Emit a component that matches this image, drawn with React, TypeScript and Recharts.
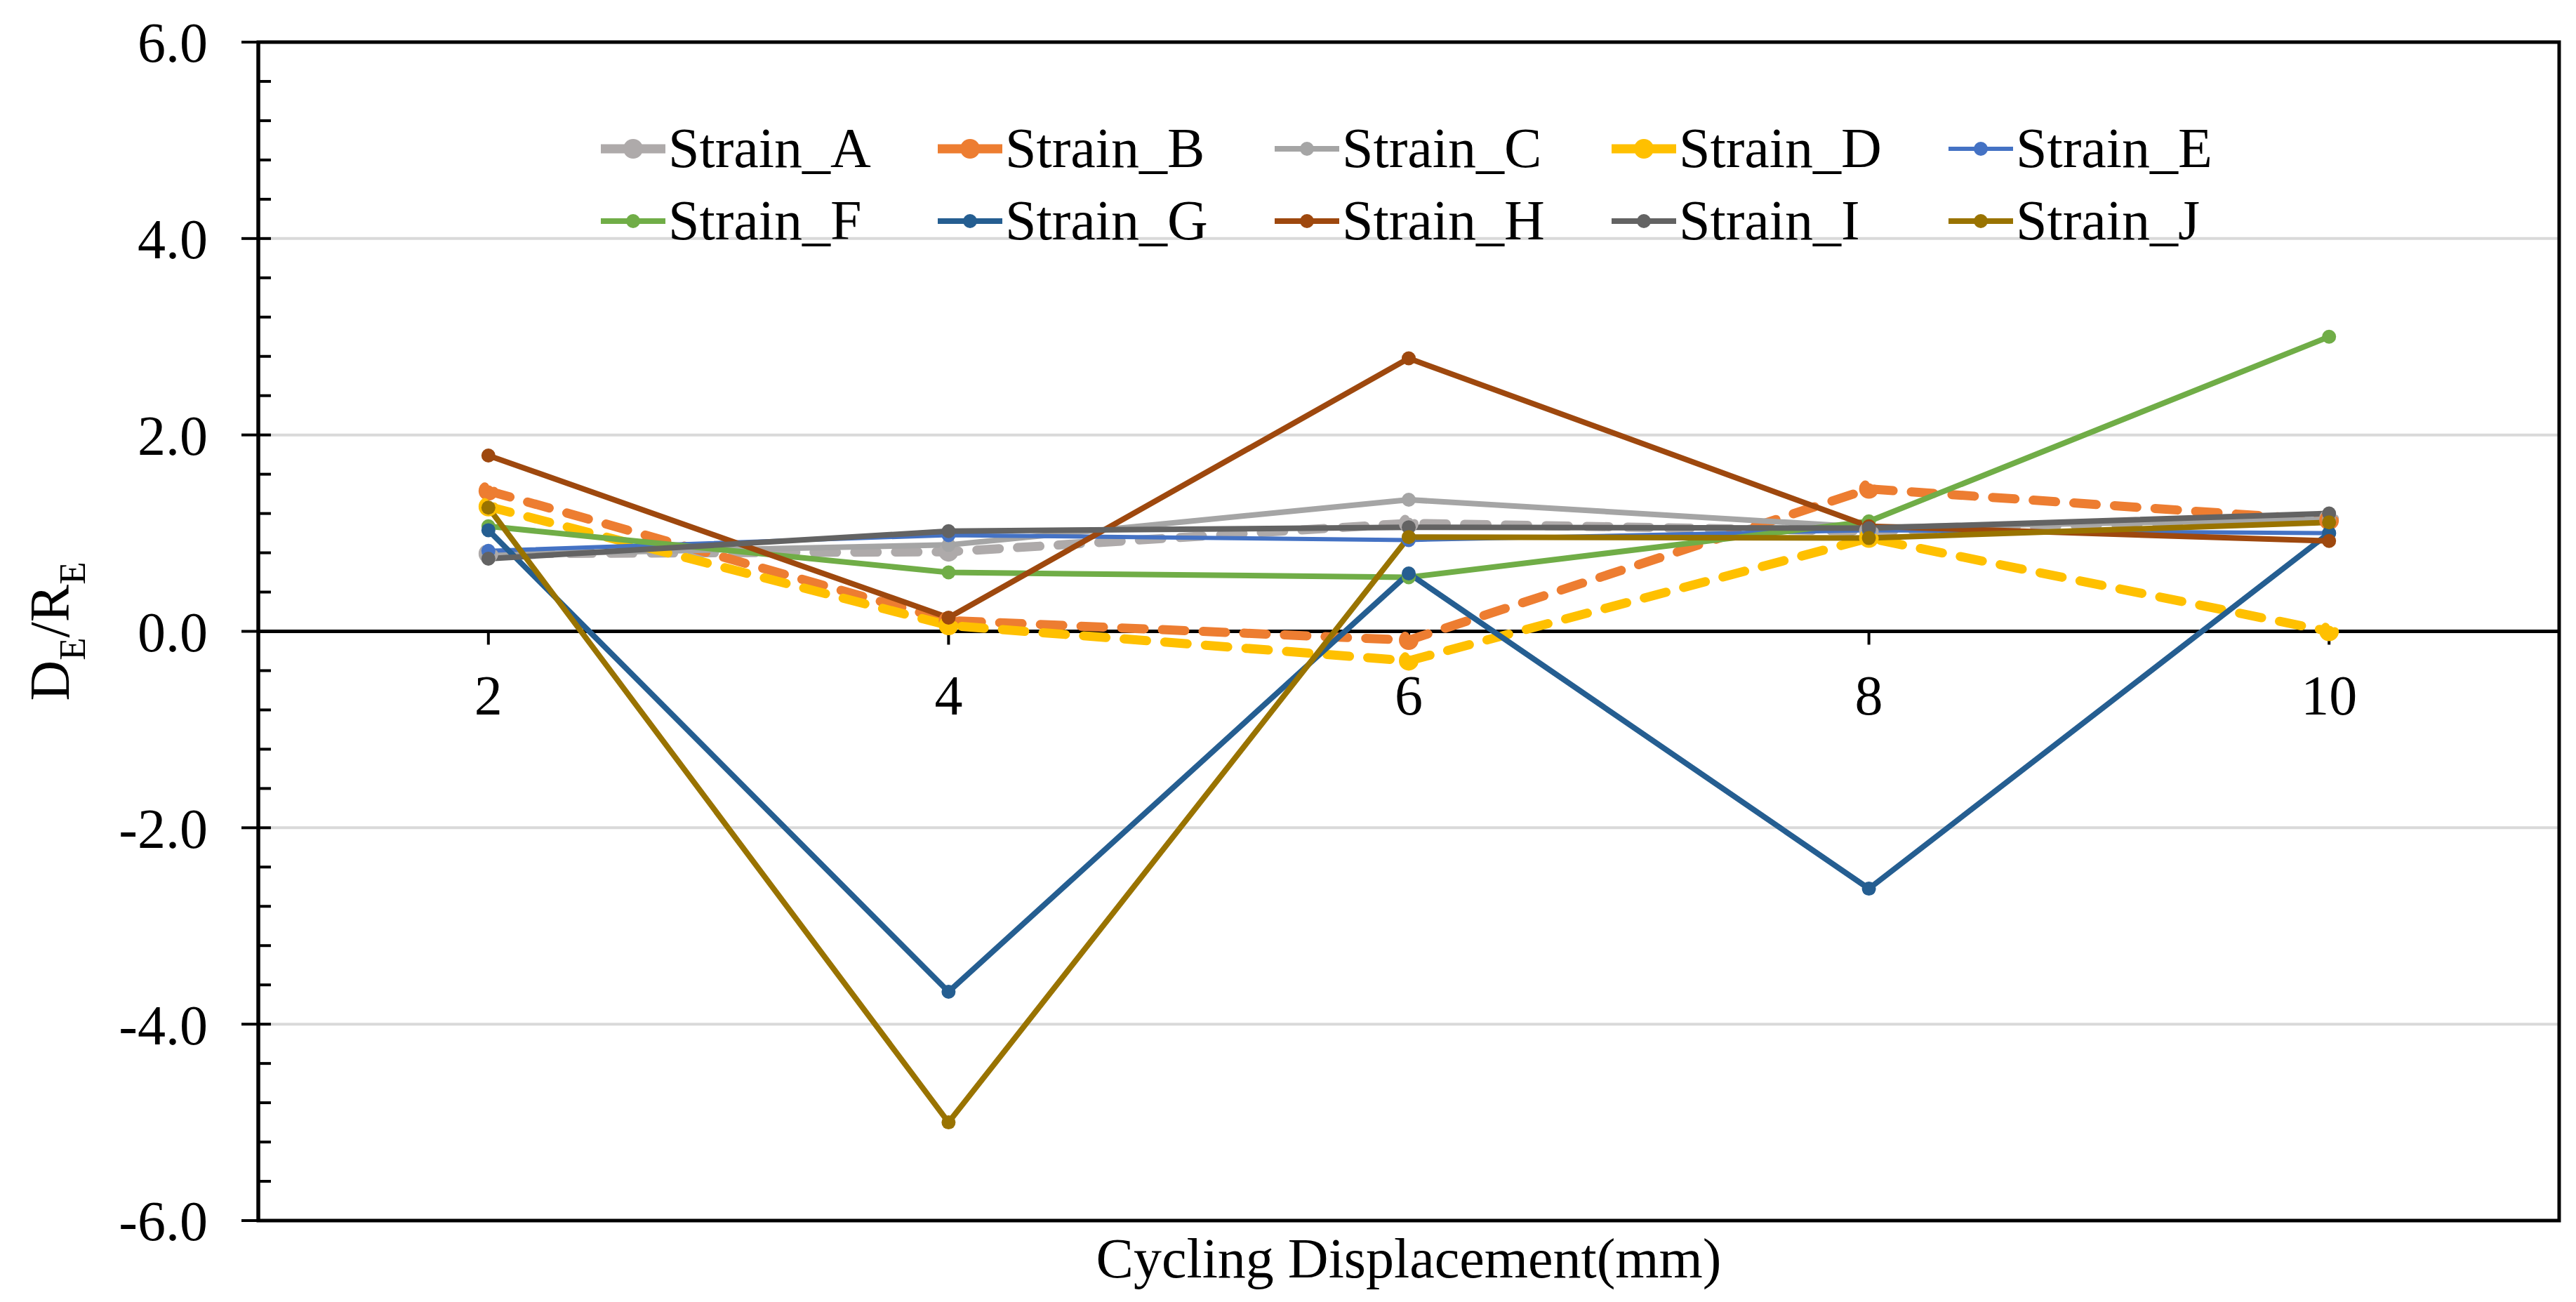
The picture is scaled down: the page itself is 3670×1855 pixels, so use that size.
import React from 'react';
import {
  LineChart,
  Line,
  XAxis,
  YAxis,
  CartesianGrid,
  ReferenceLine,
  ReferenceDot,
  ReferenceArea,
  Legend,
} from 'recharts';

const FONT = "'Liberation Serif', 'Times New Roman', serif";

// Categories (Cycling Displacement, mm)
const xValues = [2, 4, 6, 8, 10];

// Series values (D_E/R_E)
const strainA = [0.79, 0.81, 1.1, 1.02, 1.15];
const strainB = [1.43, 0.11, -0.09, 1.45, 1.13];
const strainC = [0.78, 0.88, 1.34, 1.06, 1.14];
const strainD = [1.27, 0.06, -0.3, 0.95, 0.0];
const strainE = [0.82, 0.98, 0.93, 1.03, 1.0];
const strainF = [1.07, 0.6, 0.55, 1.12, 3.0];
const strainG = [1.03, -3.67, 0.59, -2.62, 1.0];
const strainH = [1.79, 0.14, 2.78, 1.07, 0.92];
const strainI = [0.74, 1.02, 1.06, 1.05, 1.2];
const strainJ = [1.26, -5.0, 0.96, 0.95, 1.11];

// Axis ticks
const xTicks = [2, 4, 6, 8, 10];
const xGridValues = [2, 3, 4, 5, 6, 7, 8, 9, 10];
const yTicks = [-6, -4, -2, 0, 2, 4, 6];
const yGridValues = [-4, -2, 2, 4];
const yMinorTicks = Array.from({ length: 31 }, (_, i) => Math.round((-6 + i * 0.4) * 10) / 10);

const series = [
  { key: 'A', name: 'Strain_A', values: strainA, color: '#AEAAAA', dashed: true, width: 13 },
  { key: 'B', name: 'Strain_B', values: strainB, color: '#ED7D31', dashed: true, width: 13 },
  { key: 'C', name: 'Strain_C', values: strainC, color: '#A5A5A5', dashed: false, width: 8 },
  { key: 'D', name: 'Strain_D', values: strainD, color: '#FFC000', dashed: true, width: 13 },
  { key: 'E', name: 'Strain_E', values: strainE, color: '#4472C4', dashed: false, width: 6 },
  { key: 'F', name: 'Strain_F', values: strainF, color: '#70AD47', dashed: false, width: 8 },
  { key: 'G', name: 'Strain_G', values: strainG, color: '#255E91', dashed: false, width: 8 },
  { key: 'H', name: 'Strain_H', values: strainH, color: '#9E480E', dashed: false, width: 8 },
  { key: 'I', name: 'Strain_I', values: strainI, color: '#636363', dashed: false, width: 8 },
  { key: 'J', name: 'Strain_J', values: strainJ, color: '#997300', dashed: false, width: 8 },
];

const data = xValues.map((x, i) => {
  const row: Record<string, number> = { x };
  series.forEach((s) => {
    row[s.key] = s.values[i];
  });
  return row;
});

const renderLegend = (props: any) => {
  const payload = props.payload || [];
  return (
    <div
      style={{
        display: 'grid',
        gridTemplateColumns: 'repeat(5, 480px)',
        fontFamily: FONT,
        fontSize: 80,
        lineHeight: '103px',
        color: '#000',
      }}
    >
      {payload.map((entry: any) => {
        const s = series.find((q) => q.key === entry.dataKey) || series[0];
        return (
          <div key={s.key} style={{ display: 'flex', alignItems: 'flex-start', height: 103 }}>
            <svg width={100} height={103} style={{ flex: '0 0 auto' }}>
              <line
                x1={4}
                x2={96}
                y1={52}
                y2={52}
                stroke={s.color}
                strokeWidth={s.dashed ? 13 : s.width}
              />
              <circle cx={50} cy={52} r={s.dashed ? 14 : 10} fill={s.color} />
            </svg>
            <span style={{ whiteSpace: 'nowrap' }}>{entry.value}</span>
          </div>
        );
      })}
    </div>
  );
};

const renderYTitle = (props: any) => {
  const vb = props.viewBox || { x: 0, y: 52, width: 360, height: 1679 };
  const cx = 90;
  const cy = vb.y + vb.height / 2;
  return (
    <text
      x={cx}
      y={cy}
      transform={`rotate(-90, ${cx}, ${cy})`}
      textAnchor="middle"
      fontFamily={FONT}
      fontSize={80}
      fill="#000"
    >
      D
      <tspan fontSize={53} dy={23}>
        E
      </tspan>
      <tspan fontSize={80} dy={-23}>
        /R
      </tspan>
      <tspan fontSize={53} dy={23}>
        E
      </tspan>
    </text>
  );
};

const renderXTitle = (props: any) => {
  const vb = props.viewBox || { x: 360, y: 1731, width: 3278, height: 108 };
  return (
    <text
      x={vb.x + vb.width / 2}
      y={vb.y + 81}
      textAnchor="middle"
      fontFamily={FONT}
      fontSize={80}
      fill="#000"
    >
      Cycling Displacement(mm)
    </text>
  );
};

const makeXTick = (label: number) => (p: any) => (
  <g>
    <line x1={p.cx} x2={p.cx} y1={p.cy} y2={p.cy + 19} stroke="#000" strokeWidth={4} />
    <text
      x={p.cx}
      y={p.cy + 118}
      textAnchor="middle"
      fontFamily={FONT}
      fontSize={80}
      fill="#000"
    >
      {label}
    </text>
  </g>
);

const minorTickShape = (p: any) => (
  <line x1={p.cx} x2={p.cx + 18} y1={p.cy} y2={p.cy} stroke="#000" strokeWidth={4} />
);

export default function App() {
  return (
    <div style={{ width: 3654, height: 1839, background: '#fff' }}>
      <LineChart
        width={3654}
        height={1839}
        data={data}
        margin={{ top: 52, right: 16, bottom: 0, left: 0 }}
      >
        <CartesianGrid
          horizontal={false}
          vertical={true}
          verticalValues={xGridValues}
          stroke="#EFEFEF"
          strokeWidth={4}
        />
        <CartesianGrid
          horizontal={true}
          vertical={false}
          horizontalValues={yGridValues}
          stroke="#D9D9D9"
          strokeWidth={4}
        />
        <XAxis
          dataKey="x"
          type="number"
          domain={[1, 11]}
          ticks={xTicks}
          tick={false}
          tickLine={false}
          axisLine={false}
          height={108}
          label={{ content: renderXTitle }}
        />
        <YAxis
          type="number"
          domain={[-6, 6]}
          ticks={yTicks}
          interval={0}
          width={360}
          tickFormatter={(v: number) => v.toFixed(1)}
          tick={{ fontFamily: FONT, fontSize: 80, fill: '#000' }}
          tickSize={24}
          tickMargin={48}
          tickLine={{ stroke: '#000', strokeWidth: 4 }}
          axisLine={{ stroke: '#000', strokeWidth: 5 }}
          label={{ content: renderYTitle }}
        />
        <ReferenceArea
          x1={1}
          x2={11}
          y1={-6}
          y2={6}
          fill="none"
          stroke="#000"
          strokeWidth={5}
          ifOverflow="visible"
        />
        <ReferenceLine y={0} stroke="#000" strokeWidth={5} />
        {yMinorTicks.map((v) => (
          <ReferenceDot key={`m${v}`} x={1} y={v} ifOverflow="visible" shape={minorTickShape} />
        ))}
        {xTicks.map((t) => (
          <ReferenceDot key={`t${t}`} x={t} y={0} ifOverflow="visible" shape={makeXTick(t)} />
        ))}
        <Legend
          layout="vertical"
          align="center"
          verticalAlign="middle"
          content={renderLegend}
          wrapperStyle={{ position: 'absolute', left: 844, top: 152, width: 2400 }}
        />
        {series.map((s) =>
          s.dashed ? (
            <Line
              key={s.key}
              type="linear"
              dataKey={s.key}
              name={s.name}
              stroke={s.color}
              strokeWidth={s.width}
              strokeDasharray="32 26"
              strokeLinecap="round"
              strokeLinejoin="round"
              dot={{ r: 8, fill: s.color, stroke: s.color, strokeWidth: 12 }}
              activeDot={false}
              isAnimationActive={false}
            />
          ) : (
            <Line
              key={s.key}
              type="linear"
              dataKey={s.key}
              name={s.name}
              stroke={s.color}
              strokeWidth={s.width}
              strokeLinejoin="round"
              dot={{ r: 10, fill: s.color, stroke: 'none' }}
              activeDot={false}
              isAnimationActive={false}
            />
          )
        )}
      </LineChart>
    </div>
  );
}
